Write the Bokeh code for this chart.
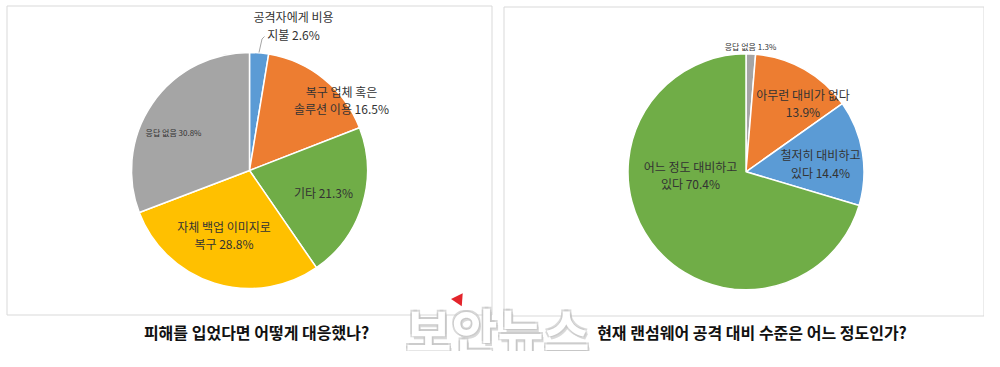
import math
from bokeh.plotting import figure
from bokeh.models import Range1d, ColumnDataSource
from bokeh.core.properties import value
from bokeh.embed import file_html
from bokeh.resources import INLINE

# ---------------- data ----------------
left_title = "피해를 입었다면 어떻게 대응했나?"
left_labels = ["공격자에게 비용\n지불", "복구 업체 혹은\n솔루션 이용", "기타", "자체 백업 이미지로\n복구", "응답 없음"]
left_values = [2.6, 16.5, 21.3, 28.8, 30.8]

right_title = "현재 랜섬웨어 공격 대비 수준은 어느 정도인가?"
right_labels = ["응답 없음", "아무런 대비가 없다\n", "철저히 대비하고\n있다", "어느 정도 대비하고\n있다"]
right_values = [1.3, 13.9, 14.4, 70.4]

# ---------------- styles ----------------
left_colors = ["#5B9BD5", "#ED7D31", "#70AD47", "#FFC000", "#A5A5A5"]
right_colors = ["#A5A5A5", "#ED7D31", "#5B9BD5", "#70AD47"]
left_font = ["12px", "12px", "12px", "12px", "8px"]
right_font = ["8px", "12px", "12px", "12px"]
# label positions in image pixels (x, y from top)
left_label_pos = [(293, 25), (341, 99.5), (323, 192), (223.5, 234.5), (173, 132)]
right_label_pos = [(750, 46), (802.5, 102.5), (820, 163), (690, 174.5)]

W, H = 1000, 367
FONT = "Noto Sans CJK KR"


def Y(yi):
    return H - yi


p = figure(width=984, height=351, x_range=Range1d(0, 984), y_range=Range1d(16, 367),
           output_backend="svg", toolbar_location=None, min_border=0,
           x_axis_type=None, y_axis_type=None)
p.outline_line_color = None
p.grid.visible = False
p.background_fill_color = "white"
p.border_fill_color = "white"

# frames
p.quad(left=[6.5, 503.5], right=[491.5, 983.5], top=[Y(5.5), Y(6.5)], bottom=[Y(314.5), Y(315.5)],
       fill_color=None, line_color="#d9d9d9", line_width=1)


def pie(cx, cy, r, values, labels, colors, fonts, pos):
    total = sum(values)
    starts, ends = [], []
    acc = 0.0
    for v in values:
        starts.append(math.pi / 2 - 2 * math.pi * acc / total)
        acc += v
        ends.append(math.pi / 2 - 2 * math.pi * acc / total)
    src = ColumnDataSource(dict(start=starts, end=ends, color=colors))
    p.wedge(x=cx, y=Y(cy), radius=r, start_angle="start", end_angle="end", direction="clock",
            fill_color="color", line_color="white", line_width=1.5, source=src)
    texts = []
    for lab, v in zip(labels, values):
        sep = "" if lab.endswith("\n") else " "
        texts.append(f"{lab}{sep}{v:.1f}%")
    lsrc = ColumnDataSource(dict(x=[q[0] for q in pos], y=[Y(q[1]) for q in pos],
                                 text=texts, size=fonts))
    p.text(x="x", y="y", text="text", source=lsrc, text_font=value(FONT),
           text_font_size="size", text_color="#333333", text_align="center",
           text_baseline="middle", text_line_height=1.05)


pie(249, 170, 118, left_values, left_labels, left_colors, left_font, left_label_pos)
pie(745.5, 171.3, 118, right_values, right_labels, right_colors, right_font, right_label_pos)

# leader line for the small slice label
p.line(x=[264, 261.5, 258.5], y=[Y(36), Y(38.5), Y(52)], line_color="#a6a6a6", line_width=1)

# titles
p.text(x=[256, 751.5], y=[Y(331), Y(331)], text=[left_title, right_title],
       text_font=value(FONT), text_font_size="16px", text_font_style="bold",
       text_color="#111111", text_align="center", text_baseline="middle")

# watermark (grey halo + white face)
for dx, dy in [(-1.5, -1.5), (1.5, 1.5), (-1.5, 1.5), (1.5, -1.5), (2, 3)]:
    p.text(x=[497], y=[Y(328)], text=["보안뉴스"], x_offset=dx, y_offset=dy,
           text_font=value(FONT), text_font_size="50px", text_font_style="bold",
           text_color="#c4c4c4", text_alpha=0.65, text_align="center", text_baseline="middle")
p.text(x=[497], y=[Y(328)], text=["보안뉴스"], text_font=value(FONT), text_font_size="50px",
       text_font_style="bold", text_color="white", text_align="center", text_baseline="middle")
p.scatter(x=[458], y=[Y(299)], marker="triangle", size=13, angle=math.pi + 0.45,
          fill_color="#e3242b", line_color=None)

open("out.html", "w").write(file_html(p, INLINE))
